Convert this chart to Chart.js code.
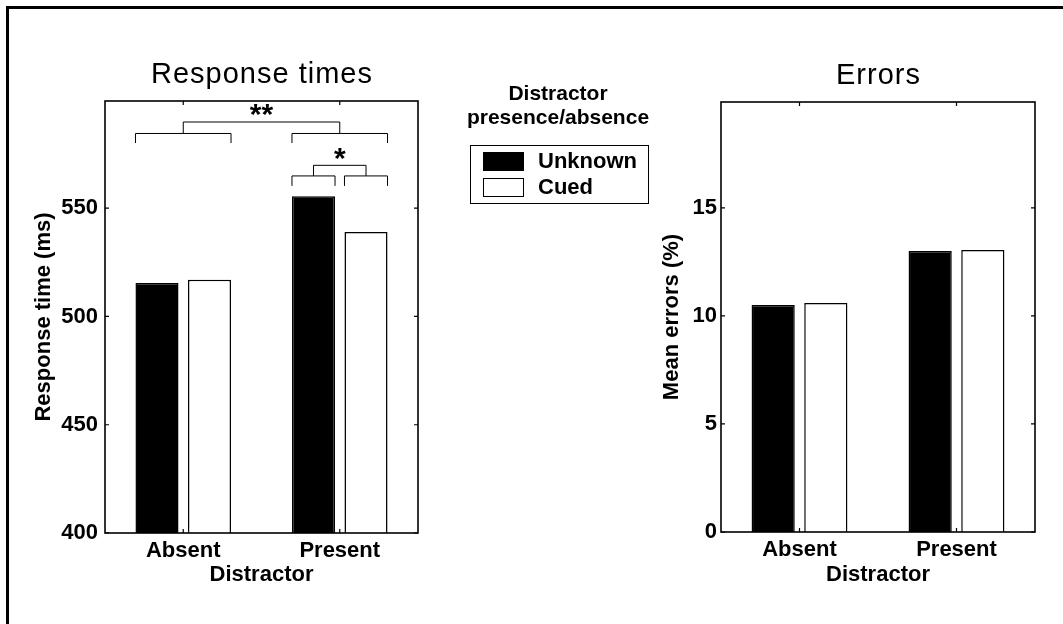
<!DOCTYPE html>
<html>
<head>
<meta charset="utf-8">
<script src="https://cdn.jsdelivr.net/npm/chart.js@4.4.1/dist/chart.umd.min.js"></script>
<style>
  html, body { margin: 0; padding: 0; background: #fff; }
  #page { position: relative; width: 1063px; height: 624px; overflow: hidden; background: #fff; }
  #frame { position: absolute; left: 6px; top: 6px; right: 0; bottom: 0;
           border-top: 3px solid #000; border-left: 3px solid #000; }
  #rt  { position: absolute; left: 0; top: 0; }
  #err { position: absolute; left: 655px; top: 0; }
</style>
</head>
<body>
<div id="page">
  <div id="frame"></div>
  <canvas id="rt" width="655" height="624"></canvas>
  <canvas id="err" width="408" height="624"></canvas>
</div>
<script>
// ---- data ----
const categories = ['Absent', 'Present'];
const seriesNames = ['Unknown', 'Cued'];
const seriesFill = ['#000000', '#ffffff'];

const rtUnknown = [515.5, 555.5];   // ms
const rtCued = [517, 539];          // ms
const errUnknown = [10.5, 13.0];    // %
const errCued = [10.6, 13.05];      // %

const rtTicks = [400, 450, 500, 550];
const errTicks = [0, 5, 10, 15];
const rtRange = [400, 599.5];
const errRange = [0, 19.9];

const legendTitle = ['Distractor', 'presence/absence'];

// significance brackets, levels in ms
const rtGroupMark = { label: '**', text: 595.2, top: 589.8, mid: 584.5, leg: 580.1 };
const rtPairMark = { category: 1, label: '*', text: 574.9, top: 569.8, mid: 564.9, leg: 560.3 };

// ---- drawing helpers ----
const FONT = '"Liberation Sans", Arial, Helvetica, sans-serif';
const smallFont = { family: FONT, size: 22, weight: 'bold' };

function makeDatasets(a, b) {
  return [a, b].map((d, i) => ({
    label: seriesNames[i],
    data: d,
    backgroundColor: seriesFill[i],
    borderColor: '#000',
    borderWidth: 1.5,
    categoryPercentage: 0.671,
    barPercentage: 0.82
  }));
}

// axes box with inward tick marks on all four sides
const boxTicks = {
  id: 'boxTicks',
  afterDatasetsDraw(chart) {
    const { ctx, chartArea: a, scales: { x, y } } = chart;
    const len = 4;
    ctx.save();
    ctx.strokeStyle = '#000';
    ctx.lineWidth = 1.6;
    ctx.strokeRect(a.left, a.top, a.right - a.left, a.bottom - a.top);
    ctx.lineWidth = 1.2;
    ctx.beginPath();
    y.ticks.forEach(t => {
      const py = y.getPixelForValue(t.value);
      ctx.moveTo(a.left, py); ctx.lineTo(a.left + len, py);
      ctx.moveTo(a.right, py); ctx.lineTo(a.right - len, py);
    });
    categories.forEach((c, i) => {
      const px = x.getPixelForValue(i);
      ctx.moveTo(px, a.bottom); ctx.lineTo(px, a.bottom - len);
      ctx.moveTo(px, a.top); ctx.lineTo(px, a.top + len);
    });
    ctx.stroke();
    ctx.restore();
  }
};

// panel heading above the axes box
const panelTitle = {
  id: 'panelTitle',
  afterDraw(chart, args, opts) {
    const { ctx, chartArea: a } = chart;
    ctx.save();
    ctx.fillStyle = '#000';
    ctx.font = `29px ${FONT}`;
    ctx.letterSpacing = '1px';
    ctx.textAlign = 'center';
    ctx.textBaseline = 'alphabetic';
    ctx.fillText(opts.text, (a.left + a.right) / 2 + 0.5, a.top - 18);
    ctx.restore();
  }
};

function barEdges(chart, d, c) {
  const el = chart.getDatasetMeta(d).data[c];
  const { x, width } = el.getProps(['x', 'width'], true);
  return { l: x - width / 2, r: x + width / 2, c: x };
}

function bracket(ctx, x1, x2, yBar, yLeg) {
  ctx.moveTo(x1, yLeg);
  ctx.lineTo(x1, yBar);
  ctx.lineTo(x2, yBar);
  ctx.lineTo(x2, yLeg);
}

function centredMark(ctx, text, cx, cy) {
  ctx.font = `bold 30px ${FONT}`;
  ctx.textAlign = 'center';
  ctx.textBaseline = 'alphabetic';
  const m = ctx.measureText(text);
  const off = (m.actualBoundingBoxAscent - m.actualBoundingBoxDescent) / 2;
  ctx.fillText(text, cx, cy + off);
}

// significance brackets over the response-time bars
const sigMarks = {
  id: 'sigMarks',
  afterDatasetsDraw(chart) {
    const { ctx, scales: { y } } = chart;
    ctx.save();
    ctx.strokeStyle = '#000';
    ctx.fillStyle = '#000';
    ctx.lineWidth = 1;
    ctx.beginPath();
    // between distractor conditions
    const centres = categories.map((c, i) => {
      const l = barEdges(chart, 0, i).l;
      const r = barEdges(chart, 1, i).r;
      bracket(ctx, l, r, y.getPixelForValue(rtGroupMark.mid), y.getPixelForValue(rtGroupMark.leg));
      return (l + r) / 2;
    });
    bracket(ctx, centres[0], centres[1], y.getPixelForValue(rtGroupMark.top), y.getPixelForValue(rtGroupMark.mid));
    // between cue conditions within one category
    const pc = rtPairMark.category;
    const pe = [0, 1].map(d => barEdges(chart, d, pc));
    pe.forEach(e => bracket(ctx, e.l, e.r, y.getPixelForValue(rtPairMark.mid), y.getPixelForValue(rtPairMark.leg)));
    bracket(ctx, pe[0].c, pe[1].c, y.getPixelForValue(rtPairMark.top), y.getPixelForValue(rtPairMark.mid));
    ctx.stroke();
    centredMark(ctx, rtGroupMark.label, (centres[0] + centres[1]) / 2, y.getPixelForValue(rtGroupMark.text));
    centredMark(ctx, rtPairMark.label, (pe[0].c + pe[1].c) / 2, y.getPixelForValue(rtPairMark.text));
    ctx.restore();
  }
};

// legend block between the two panels
const sideLegend = {
  id: 'sideLegend',
  afterDraw(chart) {
    const { ctx } = chart;
    ctx.save();
    ctx.fillStyle = '#000';
    ctx.textBaseline = 'middle';
    ctx.font = `bold 21px ${FONT}`;
    ctx.textAlign = 'center';
    legendTitle.forEach((t, i) => ctx.fillText(t, 558, 94 + i * 24));
    ctx.strokeStyle = '#000';
    ctx.lineWidth = 1;
    ctx.strokeRect(470.5, 145.5, 178, 58);
    ctx.textAlign = 'left';
    ctx.font = `bold 22px ${FONT}`;
    chart.data.datasets.forEach((ds, i) => {
      const top = 152 + i * 26;
      ctx.fillStyle = ds.backgroundColor;
      ctx.fillRect(483, top, 41, 19);
      ctx.strokeRect(483.5, top + 0.5, 40, 18);
      ctx.fillStyle = '#000';
      ctx.fillText(ds.label, 538, top + 9.5);
    });
    ctx.restore();
  }
};

function panelOptions(p) {
  return {
    responsive: false,
    animation: false,
    devicePixelRatio: 1,
    layout: { padding: { left: 0, top: p.top, right: p.right, bottom: 0 } },
    plugins: {
      legend: { display: false },
      tooltip: { enabled: false },
      panelTitle: { text: p.title }
    },
    scales: {
      x: {
        type: 'category',
        offset: true,
        grid: { display: false, drawTicks: false },
        border: { display: false },
        ticks: { color: '#000', font: smallFont, padding: p.xTickPad, maxRotation: 0 },
        title: { display: true, text: 'Distractor', color: '#000', font: smallFont,
                 padding: { top: 0, bottom: p.xTitlePad } },
        afterFit(s) { s.height = p.xHeight; }
      },
      y: {
        min: p.range[0],
        max: p.range[1],
        grid: { display: false, drawTicks: false },
        border: { display: false },
        afterBuildTicks(s) { s.ticks = p.ticks.map(v => ({ value: v })); },
        ticks: { color: '#000', font: smallFont, padding: p.yTickPad },
        title: { display: true, text: p.yTitle, color: '#000', font: smallFont,
                 padding: { top: p.yTitlePad, bottom: 0 } },
        afterFit(s) { s.width = p.yWidth; }
      }
    }
  };
}

new Chart(document.getElementById('rt'), {
  type: 'bar',
  data: { labels: categories, datasets: makeDatasets(rtUnknown, rtCued) },
  options: panelOptions({
    title: 'Response times', yTitle: 'Response time (ms)',
    range: rtRange, ticks: rtTicks,
    top: 101, right: 237, xHeight: 91, yWidth: 105,
    xTickPad: 5, xTitlePad: 35.5, yTickPad: 7, yTitlePad: 31
  }),
  plugins: [boxTicks, panelTitle, sigMarks, sideLegend]
});

new Chart(document.getElementById('err'), {
  type: 'bar',
  data: { labels: categories, datasets: makeDatasets(errUnknown, errCued) },
  options: panelOptions({
    title: 'Errors', yTitle: 'Mean errors (%)',
    range: errRange, ticks: errTicks,
    top: 102, right: 28, xHeight: 92, yWidth: 66,
    xTickPad: 5, xTitlePad: 36, yTickPad: 4, yTitlePad: 4
  }),
  plugins: [boxTicks, panelTitle]
});
</script>
</body>
</html>
